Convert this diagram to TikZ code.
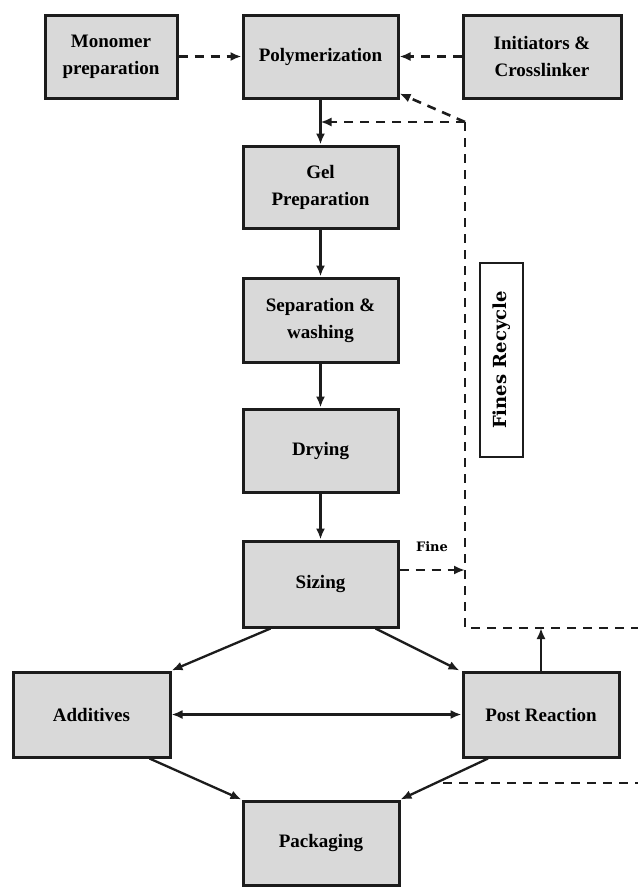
\documentclass[tikz,border=0pt]{standalone}
\usepackage{fontspec}
\setmainfont{Liberation Serif}
\newfontfamily\slabfont{DejaVu Serif}
\usepackage{tikz}
\usetikzlibrary{arrows.meta, positioning, shadows}
\definecolor{boxgray}{RGB}{217,217,217}
\definecolor{dark}{RGB}{28,28,28}
\tikzset{
    stage/.style={rectangle, draw=dark, line width=3pt, fill=boxgray, text centered, align=center, font=\bfseries\fontsize{19}{27}\selectfont, drop shadow={shadow xshift=2pt, shadow yshift=-2pt, opacity=0.35}},
    flow/.style={-{Latex[length=11pt,width=9pt]}, line width=2.3pt, draw=dark},
    twoway/.style={{Latex[length=11pt,width=9pt]}-{Latex[length=11pt,width=9pt]}, line width=2.3pt, draw=dark},
    recycle/.style={-{Latex[length=11pt,width=9pt]}, line width=2.6pt, dash pattern=on 9pt off 7pt, draw=dark},
    recycleline/.style={line width=2.6pt, dash pattern=on 9pt off 7pt, draw=dark},
    tagbox/.style={rectangle, draw=dark, line width=2.6pt, fill=white, font=\slabfont\bfseries\fontsize{18}{20}\selectfont},
    finelabel/.style={font=\slabfont\bfseries\fontsize{13}{15}\selectfont, inner sep=0pt}
}
\begin{document}
\begin{tikzpicture}[x=1pt, y=-1pt]
    \useasboundingbox[fill=white] (0,0) rectangle (638,887);

    % Feed stages
    \node[stage, minimum width=132pt, minimum height=83pt] (mono) at (111,56.5) {Monomer\\preparation};
    \node[stage, minimum width=155pt, minimum height=83pt] (poly) at (320.5,56.5) {Polymerization};
    \node[stage, minimum width=158pt, minimum height=83pt] (init) at (542,56.5) {Initiators \&\\Crosslinker};

    % Main line
    \node[stage, minimum width=155pt, minimum height=82pt] (gel) at (320.5,187) {Gel\\Preparation};
    \node[stage, minimum width=155pt, minimum height=84pt] (sep) at (320.5,320) {Separation \&\\washing};
    \node[stage, minimum width=155pt, minimum height=83pt] (dry) at (320.5,450.5) {Drying};
    \node[stage, minimum width=155pt, minimum height=86pt] (siz) at (320.5,584) {Sizing};
    \node[stage, minimum width=157pt, minimum height=85pt] (add) at (91.5,714.5) {Additives};
    \node[stage, minimum width=156pt, minimum height=85pt] (post) at (541,714.5) {Post Reaction};
    \node[stage, minimum width=156pt, minimum height=84pt] (pack) at (321,843) {Packaging};

    % Recycle tag
    \node[tagbox, minimum width=194pt, minimum height=43pt, rotate=90] (fines) at (501.5,360) {Fines Recycle};
    \node[finelabel] (finetxt) at (432,547) {Fine};

    % Recycle path corners
    \coordinate (rtop) at (465,122);
    \coordinate (rbot) at (465,628);
    \coordinate (redge) at (638,628);
    \coordinate (fend) at (465,570);
    \coordinate (lstart) at (443,783);
    \coordinate (ledge) at (638,783);

    % Dashed feeds
    \draw[recycle] (mono) -- (poly);
    \draw[recycle] (init) -- (poly);
    \draw[recycle] (rtop) -- (rtop -| poly.south);
    \draw[recycle] (rtop) -- ([yshift=6pt]poly.south east);
    \draw[recycleline] (rtop) -- (rbot) -- (redge);
    \draw[recycle] ([yshift=14pt]siz.east) -- (fend);
    \draw[recycleline] (lstart) -- (ledge);

    % Flow
    \draw[flow] (poly) -- (gel);
    \draw[flow] (gel) -- (sep);
    \draw[flow] (sep) -- (dry);
    \draw[flow] (dry) -- (siz);
    \draw[flow] ([xshift=-50pt]siz.south) -- (add.north east);
    \draw[flow] ([xshift=55pt]siz.south) -- ([xshift=-2pt]post.north west);
    \draw[twoway] (add) -- (post);
    \draw[flow] ([xshift=58pt]add.south) -- (pack.north west);
    \draw[flow] ([xshift=-53pt]post.south) -- (pack.north east);
    \draw[flow] (post.north) -- (post.north |- rbot);
\end{tikzpicture}
\end{document}
